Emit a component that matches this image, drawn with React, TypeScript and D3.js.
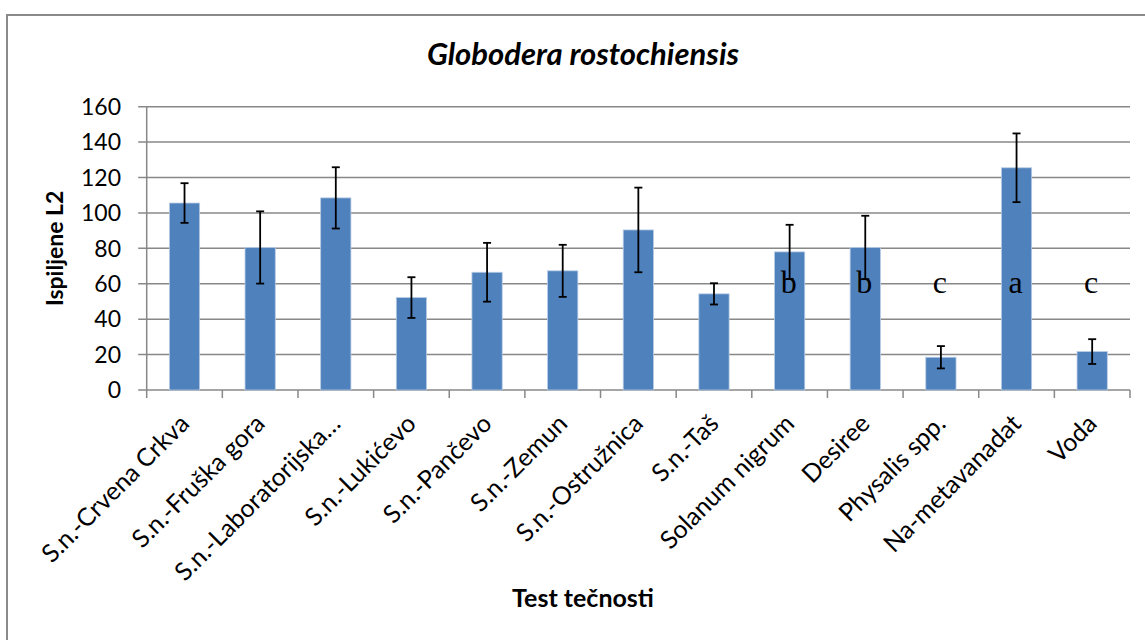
import React from "react";
import * as d3 from "d3";

const categories = [
  "S.n.-Crvena Crkva",
  "S.n.-Fruška gora",
  "S.n.-Laboratorijska…",
  "S.n.-Lukićevo",
  "S.n.-Pančevo",
  "S.n.-Zemun",
  "S.n.-Ostružnica",
  "S.n.-Taš",
  "Solanum nigrum",
  "Desiree",
  "Physalis spp.",
  "Na-metavanadat",
  "Voda",
];
const means = [105.6, 80.5, 108.5, 52.2, 66.5, 67.3, 90.4, 54.3, 78.0, 80.5, 18.5, 125.5, 21.7];
const errors = [11.2, 20.4, 17.3, 11.5, 16.6, 14.7, 23.9, 6.0, 15.3, 17.9, 6.3, 19.4, 7.0];
const letters = ["", "", "", "", "", "", "", "", "b", "b", "c", "a", "c"];
const letterLevel = 60;
const yTicks = [0, 20, 40, 60, 80, 100, 120, 140, 160];
const title = "Globodera rostochiensis";
const yTitle = "Ispiljene L2";
const xTitle = "Test tečnosti";

const W = 1145;
const H = 640;
const left = 146.7;
const right = 1130;
const top = 106.7;
const bottom = 390;
const sans = "Lato, 'Open Sans', sans-serif";
const grid = "#888888";

export default function App() {
  const x = d3
    .scaleBand<string>()
    .domain(categories)
    .range([left, right])
    .paddingInner(0.6)
    .paddingOuter(0.3);
  const y = d3.scaleLinear().domain([0, 160]).range([bottom, top]);
  const step = x.step();
  const bw = x.bandwidth();
  const boundaries = d3.range(categories.length + 1).map((k) => left + k * step);

  return (
    <svg
      width={W}
      height={H}
      style={{ position: "absolute", left: 0, top: 0, background: "#fff" }}
    >
      <rect x={0} y={0} width={W} height={H} fill="#fff" />
      <rect x={7} y={15} width={1200} height={700} fill="none" stroke="#8a8a8a" strokeWidth={2} />
      <text
        x={583}
        y={65}
        textAnchor="middle"
        fontFamily={sans}
        fontWeight="bold"
        fontStyle="italic"
        fontSize={31}
      >
        {title}
      </text>
      {yTicks.map((t) => (
        <g key={"g" + t}>
          <line x1={left - 8.5} x2={right} y1={y(t)} y2={y(t)} stroke={grid} strokeWidth={1.5} />
          <text
            x={121}
            y={y(t)}
            dy="0.36em"
            textAnchor="end"
            fontFamily={sans}
            fontSize={23}
            fill="#000"
          >
            {t}
          </text>
        </g>
      ))}
      <line x1={left} x2={left} y1={top} y2={bottom} stroke={grid} strokeWidth={1.5} />
      {boundaries.map((bx, i) => (
        <line key={"xt" + i} x1={bx} x2={bx} y1={bottom} y2={bottom + 8} stroke={grid} strokeWidth={1.5} />
      ))}
      {categories.map((c, i) => {
        const bx = x(c) as number;
        return (
          <rect
            key={"b" + i}
            x={bx}
            y={y(means[i])}
            width={bw}
            height={bottom - y(means[i])}
            fill="#4F81BD"
            stroke="#B7CBE4"
            strokeWidth={0.8}
          />
        );
      })}
      {categories.map((c, i) => {
        const cx = (x(c) as number) + bw / 2;
        const y1 = y(means[i] + errors[i]);
        const y0 = y(means[i] - errors[i]);
        return (
          <g key={"e" + i} stroke="#000" strokeWidth={1.8}>
            <line x1={cx} x2={cx} y1={y1} y2={y0} />
            <line x1={cx - 4} x2={cx + 4} y1={y1} y2={y1} />
            <line x1={cx - 4} x2={cx + 4} y1={y0} y2={y0} />
          </g>
        );
      })}
      {categories.map((c, i) =>
        letters[i] ? (
          <text
            key={"l" + i}
            x={(x(c) as number) + bw / 2 - 1}
            y={y(letterLevel) + 9}
            textAnchor="middle"
            fontFamily="'Liberation Serif', 'Times New Roman', serif"
            fontSize={32}
            fill="#000"
          >
            {letters[i]}
          </text>
        ) : null
      )}
      {categories.map((c, i) => {
        const cx = (x(c) as number) + bw / 2;
        const ty = 419;
        return (
          <text
            key={"xl" + i}
            x={cx}
            y={ty}
            dy="0.35em"
            textAnchor="end"
            transform={`rotate(-45 ${cx} ${ty})`}
            fontFamily={sans}
            fontSize={25}
            fill="#000"
          >
            {c}
          </text>
        );
      })}
      <text
        x={583}
        y={607}
        textAnchor="middle"
        fontFamily={sans}
        fontWeight="bold"
        fontSize={25}
      >
        {xTitle}
      </text>
      <text
        transform={`translate(63 ${(top + bottom) / 2}) rotate(-90)`}
        textAnchor="middle"
        fontFamily={sans}
        fontWeight="bold"
        fontSize={23}
      >
        {yTitle}
      </text>
    </svg>
  );
}
